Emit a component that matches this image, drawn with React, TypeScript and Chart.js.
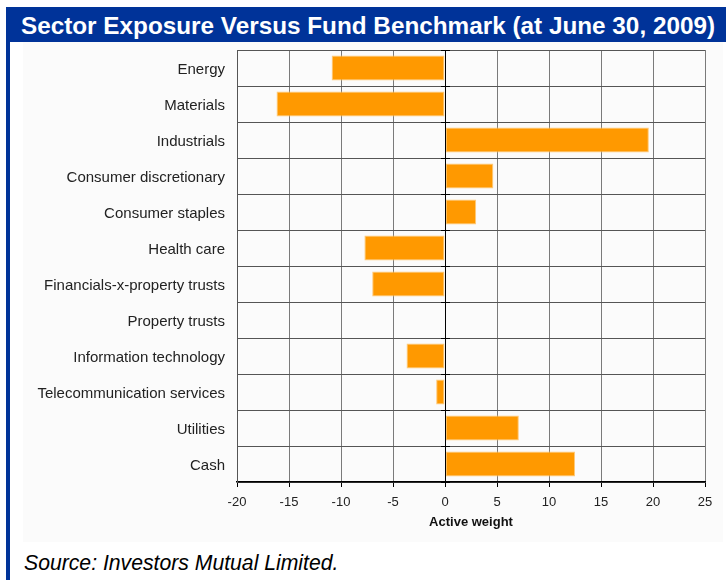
import React, { useEffect, useRef } from "react";
import { Chart, registerables } from "chart.js";

Chart.register(...registerables);

const categories = [
  "Energy",
  "Materials",
  "Industrials",
  "Consumer discretionary",
  "Consumer staples",
  "Health care",
  "Financials-x-property trusts",
  "Property trusts",
  "Information technology",
  "Telecommunication services",
  "Utilities",
  "Cash",
];
const activeWeight = [-10.9, -16.2, 19.6, 4.65, 3.0, -7.75, -7.0, 0, -3.7, -0.85, 7.1, 12.5];
const xMin = -20;
const xMax = 25;
const xStep = 5;

const FONT = "'Liberation Sans', Arial, sans-serif";

const zeroTicks = {
  id: "zeroTicks",
  afterDatasetsDraw(chart: any) {
    const x = chart.scales.x;
    const y = chart.scales.y;
    const ctx = chart.ctx;
    const zx = x.getPixelForValue(0);
    ctx.save();
    ctx.strokeStyle = "#000";
    ctx.lineWidth = 1;
    ctx.beginPath();
    ctx.moveTo(Math.round(zx) + 0.5, y.top);
    ctx.lineTo(Math.round(zx) + 0.5, y.bottom);
    for (let i = 0; i <= categories.length; i++) {
      const py = Math.round(y.top + (i * (y.bottom - y.top)) / categories.length) + 0.5;
      ctx.moveTo(zx - 4, py);
      ctx.lineTo(zx + 5, py);
    }
    ctx.stroke();
    ctx.restore();
  },
};

export default function App() {
  const ref = useRef<HTMLCanvasElement>(null);
  useEffect(() => {
    if (!ref.current) return;
    const chart = new Chart(ref.current, {
      type: "bar",
      data: {
        labels: categories,
        datasets: [
          {
            data: activeWeight,
            backgroundColor: "#FF9900",
            borderColor: "#FFC977",
            borderWidth: 1,
            borderSkipped: false,
            barPercentage: 0.7,
            categoryPercentage: 1,
          },
        ],
      },
      options: {
        indexAxis: "y",
        animation: false,
        responsive: false,
        maintainAspectRatio: false,
        layout: { padding: { top: 8, right: 18, left: 0, bottom: 12 } },
        plugins: {
          legend: { display: false },
          tooltip: { enabled: false },
          title: { display: false },
        },
        scales: {
          x: {
            type: "linear",
            min: xMin,
            max: xMax,
            ticks: {
              stepSize: xStep,
              color: "#222",
              font: { family: FONT, size: 13 },
              padding: 8,
            },
            grid: {
              color: "#7a7a7a",
              lineWidth: 1,
              drawTicks: true,
              tickLength: 5,
              tickColor: "#000",
            },
            border: { display: true, color: "#000", width: 1.5 },
            title: {
              display: true,
              text: "Active weight",
              color: "#111",
              font: { family: FONT, size: 13, weight: "bold" },
              padding: { top: 4, bottom: 0 },
            },
            afterFit(scale: any) {
              scale.height = 48;
            },
          },
          y: {
            type: "category",
            offset: true,
            ticks: {
              color: "#222",
              font: { family: FONT, size: 15 },
              padding: 12,
              labelOffset: 2,
            },
            grid: {
              offset: true,
              color: "#555",
              lineWidth: 1,
              drawTicks: false,
            },
            border: { display: true, color: "#555", width: 1 },
            afterFit(scale: any) {
              scale.width = 214;
              scale.paddingTop = 0;
              scale.paddingBottom = 0;
            },
          },
        },
      },
      plugins: [zeroTicks],
    });
    return () => chart.destroy();
  }, []);

  return (
    <div
      style={{
        position: "absolute",
        left: 0,
        top: 0,
        width: 726,
        height: 580,
        background: "#fff",
        overflow: "hidden",
        fontFamily: FONT,
      }}
    >
      <div
        style={{
          position: "absolute",
          left: 6,
          top: 7,
          width: 720,
          height: 35,
          background: "#003399",
        }}
      />
      <div
        style={{
          position: "absolute",
          left: 6,
          top: 7,
          width: 4,
          height: 573,
          background: "#003399",
        }}
      />
      <div
        style={{
          position: "absolute",
          left: 10,
          top: 8,
          width: 716,
          height: 35,
          lineHeight: "35px",
          color: "#fff",
          fontWeight: "bold",
          fontSize: 24.3,
          textAlign: "center",
          whiteSpace: "nowrap",
        }}
      >
        Sector Exposure Versus Fund Benchmark (at June 30, 2009)
      </div>
      <div
        style={{
          position: "absolute",
          left: 23,
          top: 42,
          width: 700,
          height: 500,
          background: "#fbfbfb",
        }}
      >
        <canvas ref={ref} width={700} height={500} style={{ display: "block" }} />
      </div>
      <div
        style={{
          position: "absolute",
          left: 24,
          top: 551,
          fontSize: 21.2,
          fontStyle: "italic",
          color: "#000",
          whiteSpace: "nowrap",
        }}
      >
        Source: Investors Mutual Limited.
      </div>
    </div>
  );
}
